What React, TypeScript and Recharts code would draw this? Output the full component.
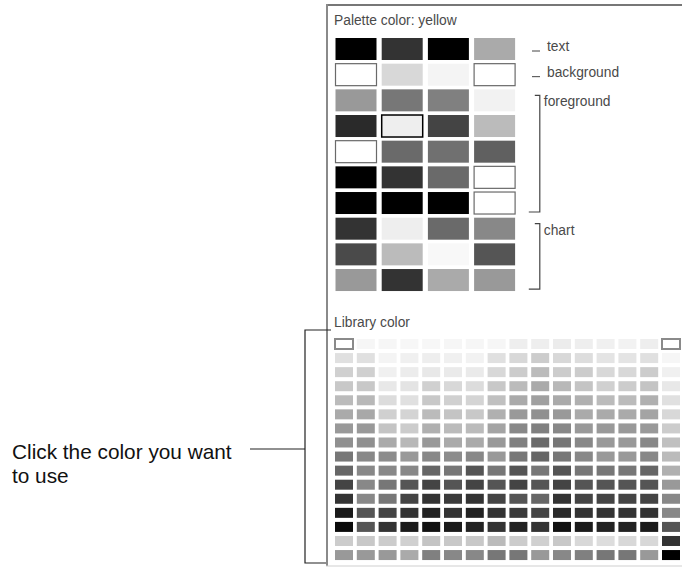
import React from 'react';
import { ScatterChart, Scatter, XAxis, YAxis, Customized } from 'recharts';

// ---------- data ----------
const paletteTitle = 'Palette color: yellow';
const libraryTitle = 'Library color';
const noteLines = ['Click the color you want', 'to use'];

// palette swatches: 10 rows x 4 columns, grey level 0-255 (255 = white outlined swatch)
const paletteRows: number[][] = [
  [0, 51, 0, 170],
  [255, 216, 244, 255],
  [153, 119, 128, 242],
  [42, 238, 68, 187],
  [255, 106, 112, 96],
  [0, 51, 106, 255],
  [0, 0, 0, 255],
  [51, 238, 106, 136],
  [74, 187, 248, 85],
  [153, 51, 170, 153],
];
const selectedSwatch = { row: 3, col: 1 };

// palette role labels
const singleLabels = [
  { text: 'text', row: 0 },
  { text: 'background', row: 1 },
];
const groupLabels = [
  { text: 'foreground', from: 2, to: 6 },
  { text: 'chart', from: 7, to: 9 },
];

// library swatches: 16 rows x 16 columns, grey level 0-255 (255 = outlined empty swatch)
const libraryRows: number[][] = [
  [255, 246, 246, 247, 247, 246, 246, 246, 238, 238, 236, 238, 240, 242, 238, 255],
  [224, 224, 244, 240, 238, 240, 242, 224, 216, 204, 216, 221, 228, 228, 224, 246],
  [208, 208, 240, 236, 232, 234, 234, 216, 204, 187, 204, 204, 216, 216, 204, 240],
  [200, 200, 232, 228, 208, 216, 220, 200, 187, 170, 184, 196, 208, 204, 196, 232],
  [187, 184, 220, 224, 200, 208, 212, 192, 170, 160, 170, 176, 187, 187, 176, 224],
  [170, 168, 208, 212, 187, 196, 200, 176, 153, 144, 153, 170, 170, 170, 164, 216],
  [153, 153, 196, 204, 176, 187, 187, 164, 136, 128, 136, 153, 153, 153, 153, 204],
  [144, 144, 170, 184, 153, 170, 170, 153, 128, 106, 119, 136, 153, 153, 136, 192],
  [119, 136, 140, 153, 136, 140, 136, 153, 119, 102, 119, 136, 153, 153, 136, 187],
  [102, 136, 136, 136, 102, 119, 85, 119, 85, 119, 85, 119, 119, 119, 102, 176],
  [68, 136, 119, 85, 68, 85, 68, 85, 68, 85, 68, 85, 85, 85, 85, 153],
  [51, 136, 119, 68, 51, 58, 51, 68, 85, 102, 51, 68, 68, 68, 68, 136],
  [26, 85, 68, 51, 34, 51, 34, 51, 58, 68, 42, 51, 51, 51, 51, 136],
  [10, 85, 51, 26, 17, 26, 34, 51, 34, 51, 17, 26, 34, 34, 26, 85],
  [204, 200, 204, 208, 196, 200, 200, 187, 204, 208, 200, 216, 221, 216, 216, 51],
  [153, 153, 153, 170, 128, 136, 136, 119, 119, 153, 136, 128, 119, 119, 153, 0],
];

// ---------- layout ----------
const W = 682;
const H = 568;
const P = { x0: 356, dx: 46.2, y0: 49, dy: 25.67, w: 41, h: 22 };
const L = { x0: 344, dx: 21.8, y0: 344, dy: 14.07, w: 18, h: 10 };
const FONT = '"Liberation Sans", Arial, sans-serif';

const grey = (g: number) => {
  const h = Math.max(0, Math.min(255, Math.round(g))).toString(16).padStart(2, '0');
  return `#${h}${h}${h}`;
};

const paletteData = paletteRows.flatMap((row, r) =>
  row.map((g, c) => ({ c, r, g, sel: r === selectedSwatch.row && c === selectedSwatch.col }))
);
const libraryData = libraryRows.flatMap((row, r) => row.map((g, c) => ({ c, r, g })));

const dom = (start: number, step: number, total: number): [number, number] => [
  -start / step,
  (total - start) / step,
];

const PaletteCell = (props: any) => {
  const { cx, cy, payload } = props;
  const outlined = payload.g >= 255 || payload.sel;
  return (
    <rect
      x={cx - P.w / 2}
      y={cy - P.h / 2}
      width={P.w}
      height={P.h}
      fill={grey(payload.g)}
      stroke={payload.sel ? '#000' : outlined ? '#6a6a6a' : 'none'}
      strokeWidth={payload.sel ? 1.5 : 1.2}
    />
  );
};

const LibraryCell = (props: any) => {
  const { cx, cy, payload } = props;
  const outlined = payload.g >= 255;
  return (
    <rect
      x={cx - L.w / 2}
      y={cy - L.h / 2}
      width={L.w}
      height={L.h}
      fill={grey(payload.g)}
      stroke={outlined ? '#8a8a8a' : 'none'}
      strokeWidth={outlined ? 2 : 0}
    />
  );
};

const Annotations = () => {
  const py = (r: number) => P.y0 + P.dy * r;
  const bx = P.x0 + P.dx * 4 - 1; // bracket line x
  const small = { fontFamily: FONT, fontSize: 13.8, fill: '#4a4a4a' } as const;
  return (
    <g>
      {/* panel frame */}
      <line x1={326} y1={5} x2={W} y2={5} stroke="#777" strokeWidth={2} />
      <line x1={327} y1={4} x2={327} y2={566} stroke="#8a8a8a" strokeWidth={2} />
      <line x1={326} y1={566} x2={W} y2={566} stroke="#cfcfcf" strokeWidth={1} />

      <text x={334} y={25} {...small}>{paletteTitle}</text>
      <text x={334} y={327} {...small}>{libraryTitle}</text>

      {singleLabels.map((s) => (
        <g key={s.text}>
          <line x1={532} y1={py(s.row) + 2} x2={540} y2={py(s.row) + 2} stroke="#444" strokeWidth={1} />
          <text x={547} y={py(s.row) + 2} {...small}>{s.text}</text>
        </g>
      ))}
      {groupLabels.map((gl) => {
        const top = py(gl.from) - P.h / 2 + 6;
        const bot = py(gl.to) + P.h / 2 - 2;
        return (
          <g key={gl.text}>
            <polyline
              points={`${bx - 5},${top} ${bx},${top} ${bx},${bot} ${bx - 11},${bot}`}
              fill="none"
              stroke="#444"
              strokeWidth={1.2}
            />
            <text x={bx + 4} y={top + 11} {...small}>{gl.text}</text>
          </g>
        );
      })}

      {/* left note with bracket */}
      <text x={12} y={459} fontFamily={FONT} fontSize={20.8} fill="#111">{noteLines[0]}</text>
      <text x={12} y={483} fontFamily={FONT} fontSize={20.8} fill="#111">{noteLines[1]}</text>
      <line x1={250} y1={449} x2={305} y2={449} stroke="#222" strokeWidth={1.2} />
      <polyline points={`331,330 305,330 305,563 326,563`} fill="none" stroke="#222" strokeWidth={1.2} />
    </g>
  );
};

export default function App() {
  return (
    <div style={{ position: 'absolute', left: 0, top: 0, width: W, height: H, background: '#fff' }}>
      <ScatterChart width={W} height={H} margin={{ top: 0, right: 0, bottom: 0, left: 0 }}>
        <XAxis xAxisId="p" type="number" dataKey="c" domain={dom(P.x0, P.dx, W)} hide allowDataOverflow />
        <YAxis yAxisId="p" type="number" dataKey="r" domain={dom(P.y0, P.dy, H)} reversed hide allowDataOverflow />
        <XAxis xAxisId="l" type="number" dataKey="c" domain={dom(L.x0, L.dx, W)} hide allowDataOverflow />
        <YAxis yAxisId="l" type="number" dataKey="r" domain={dom(L.y0, L.dy, H)} reversed hide allowDataOverflow />
        <Scatter
          data={paletteData}
          xAxisId="p"
          yAxisId="p"
          shape={PaletteCell}
          isAnimationActive={false}
        />
        <Scatter
          data={libraryData}
          xAxisId="l"
          yAxisId="l"
          shape={LibraryCell}
          isAnimationActive={false}
        />
        <Customized component={Annotations} />
      </ScatterChart>
    </div>
  );
}
